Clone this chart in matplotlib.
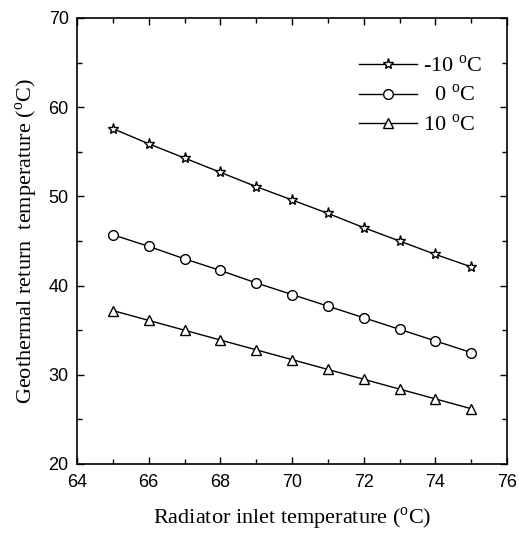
import matplotlib
matplotlib.use('Agg')
import matplotlib.pyplot as plt
from matplotlib.ticker import MultipleLocator

plt.rcParams['mathtext.fontset'] = 'custom'
plt.rcParams['mathtext.rm'] = 'Liberation Serif'

inlet_temp = [65, 66, 67, 68, 69, 70, 71, 72, 73, 74, 75]
ret_m10 = [57.6, 55.9, 54.3, 52.7, 51.1, 49.6, 48.1, 46.5, 45.0, 43.5, 42.1]
ret_0 = [45.7, 44.4, 43.0, 41.7, 40.3, 39.0, 37.7, 36.4, 35.1, 33.8, 32.5]
ret_10 = [37.2, 36.1, 35.0, 33.9, 32.8, 31.7, 30.6, 29.5, 28.4, 27.3, 26.2]
labels = [r'-10 $^{\rm o}$C', r'  0 $^{\rm o}$C', r'10 $^{\rm o}$C']

fig = plt.figure(figsize=(5.19, 5.34), dpi=100)
ax = fig.add_axes([77 / 519, 1 - 464 / 534, 430 / 519, 446 / 534])

style = dict(color='black', linewidth=1.0, markerfacecolor='white',
             markeredgecolor='black', markeredgewidth=1.0)
ax.plot(inlet_temp, ret_m10, marker='*', markersize=8, label=labels[0], **style)
ax.plot(inlet_temp, ret_0, marker='o', markersize=7, label=labels[1], **style)
ax.plot(inlet_temp, ret_10, marker='^', markersize=7.5, label=labels[2], **style)

ax.set_xlim(64, 76)
ax.set_ylim(20, 70)
ax.xaxis.set_major_locator(MultipleLocator(2))
ax.xaxis.set_minor_locator(MultipleLocator(1))
ax.yaxis.set_major_locator(MultipleLocator(10))
ax.yaxis.set_minor_locator(MultipleLocator(5))
ax.tick_params(which='both', direction='in', top=True, right=True,
               labelsize=13, width=1.0)
ax.tick_params(which='major', length=5)
ax.tick_params(which='minor', length=3.5)
ax.tick_params(axis='x', which='major', pad=7)
ax.tick_params(axis='y', which='major', pad=6)
for lab in ax.get_xticklabels() + ax.get_yticklabels():
    lab.set_fontfamily('Liberation Sans')
for sp in ax.spines.values():
    sp.set_linewidth(1.2)

ax.set_xlabel(r'Radiator inlet temperature ($^{\rm o}$C)',
              fontfamily='Liberation Serif', fontsize=16, labelpad=11)
ax.set_ylabel(r'Geothermal return  temperature ($^{\rm o}$C)',
              fontfamily='Liberation Serif', fontsize=16, labelpad=6)

leg = ax.legend(loc='upper right', bbox_to_anchor=(0.99, 0.96), frameon=False,
                handlelength=2.6, labelspacing=0.35, handletextpad=0.3,
                prop={'family': 'Liberation Serif', 'size': 16})

fig.savefig('out.png', dpi=100)
